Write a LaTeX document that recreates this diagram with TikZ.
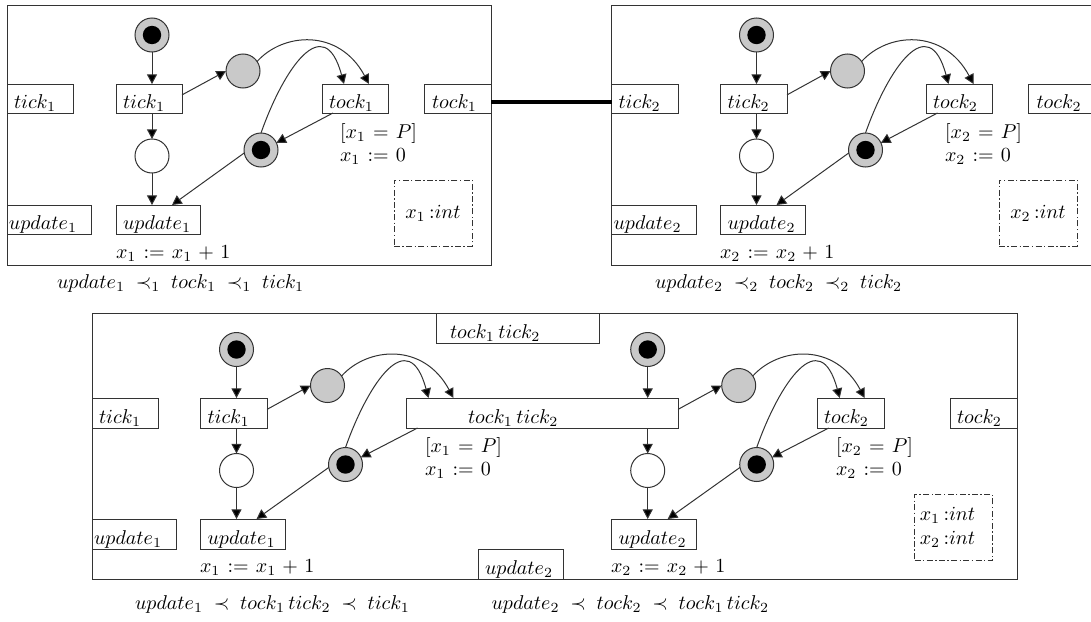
\documentclass[tikz,border=0pt]{standalone}
\usetikzlibrary{arrows.meta,calc}
\definecolor{netgray}{gray}{0.79}
\definecolor{netline}{gray}{0.2}
\newcommand{\sprel}{\hspace{0.8pt}}
\newcommand{\sord}{\hspace{2.6pt}}
\newcommand{\splus}{\hspace{0.9pt}}
\tikzset{
  tbox/.style={draw=netline,line width=0.45pt,inner sep=0pt,outer sep=0pt,align=left,text height=10pt,text depth=0pt,anchor=center},
  place/.style={circle,draw=netline,line width=0.5pt,minimum size=17pt,inner sep=0pt,outer sep=0pt},
  gplace/.style={place,fill=netgray},
  wplace/.style={place,fill=white},
  tokenmark/.style={circle,fill=black,minimum size=9.2pt,inner sep=0pt,outer sep=0pt},
  arr/.style={draw=netline,line width=0.5pt,-{Triangle[length=4.8pt,width=5pt,fill=black]}},
  lab/.style={anchor=base west,inner sep=0pt,outer sep=0pt},
  dbox/.style={draw=netline,line width=0.45pt,dash pattern=on 3pt off 1.2pt on 0.7pt off 1.2pt,inner sep=0pt,outer sep=0pt,minimum width=39pt,minimum height=33pt,align=left},
  link/.style={line width=2pt,draw=black}
}
% name, x1, y1, x2, y2, left pad, text
\newcommand{\tbx}[7]{%
  \pgfmathsetmacro{\bxw}{(#4-#2)*0.5}%
  \pgfmathsetmacro{\bxh}{(#5-#3)*0.5}%
  \pgfmathsetmacro{\bxp}{#6*0.5}%
  \node[tbox,minimum width=\bxw pt,minimum height=\bxh pt,text width=\bxw pt] (#1) at ({(#2+#4)/2},{(#3+#5)/2}) {\hspace*{\bxp pt}#7};}
% prefix, dx, dy, tick node, tock node, update node
\newcommand{\halfnet}[6]{%
  \begin{scope}[shift={(#2,#3)}]
    \node[gplace] (#1p) at (152,35) {};
    \node[tokenmark] (#1pm) at (152,35) {};
    \node[gplace] (#1g) at (243,71) {};
    \node[wplace] (#1w) at (152,156) {};
    \node[gplace] (#1k) at (261,150) {};
    \node[tokenmark] (#1km) at (261,150) {};
    \coordinate (#1xa) at (369,0);
    \coordinate (#1xb) at (344,0);
    \coordinate (#1xc) at (333,0);
    \coordinate (#1xd) at (172,0);
    \draw[arr] (#1p) -- (#1p |- #4.north);
    \draw[arr] (#1p |- #4.south) -- (#1w);
    \draw[arr] (#1w) -- (#1w |- #6.north);
    \draw[arr] ([yshift=1.8pt]#4.east) -- (#1g.west);
    \draw[arr] (#1g.34) .. controls +(26,-29) and ($(#1xa |- #5.north)+(-30,-56)$) .. (#1xa |- #5.north);
    \draw[arr] (#1k.north) .. controls +(23,-65) and ($(#1xb |- #5.north)+(-20,-74)$) .. (#1xb |- #5.north);
    \draw[arr] (#1xc |- #5.south) -- (#1k.25);
    \draw[arr] (#1k.190) -- (#1xd |- #6.north);
  \end{scope}}
\begin{document}
\begin{tikzpicture}[x=0.5pt,y=-0.5pt]
\useasboundingbox (0,0) rectangle (1091,621);
% ---- top left
\tbx{oa}{7}{5}{491}{265}{0}{}
\tbx{aTl}{7}{84}{73}{113}{7}{$tick_1$}
\tbx{aT}{116}{84}{182}{113}{7}{$tick_1$}
\tbx{aK}{322}{84}{388}{113}{7}{$tock_1$}
\tbx{aKr}{424}{84}{491}{113}{8}{$tock_1$}
\tbx{aUl}{7}{205}{91}{234}{2}{$update_1$}
\tbx{aU}{116}{205}{200}{234}{7}{$update_1$}
\halfnet{a}{0}{0}{aT}{aK}{aU}
\node[lab] (al1) at (340,138) {$[x_1\sprel=\sprel P]$};
\node[lab] (al2) at (340,161) {$x_1\sprel:=\sprel 0$};
\node[lab] (al3) at (116,258) {$x_1\sprel:=\sprel x_1\splus+\splus 1$};
\node[dbox] (ad) at (433,213) {$x_1\,{:}int$};
\node[lab] (ao) at (57,288) {$update_1\sord\prec_1\sord tock_1\sord\prec_1\sord tick_1$};
% ---- top right
\tbx{ob}{611}{5}{1091}{265}{0}{}
\tbx{bTl}{611.5}{84}{678}{113}{7}{$tick_2$}
\tbx{bT}{720.5}{84}{787}{113}{7}{$tick_2$}
\tbx{bK}{926}{84}{992.5}{113}{7}{$tock_2$}
\tbx{bKr}{1028.5}{84}{1091}{113}{8}{$tock_2$}
\tbx{bUl}{611.5}{205}{696}{234}{2}{$update_2$}
\tbx{bU}{720.5}{205}{805}{234}{7}{$update_2$}
\halfnet{b}{604.5}{0}{bT}{bK}{bU}
\node[lab] (bl1) at (945,138) {$[x_2\sprel=\sprel P]$};
\node[lab] (bl2) at (945,161) {$x_2\sprel:=\sprel 0$};
\node[lab] (bl3) at (720,258) {$x_2\sprel:=\sprel x_2\splus+\splus 1$};
\node[dbox] (bd) at (1038,213) {$x_2\,{:}int$};
\node[lab] (bo) at (655,288) {$update_2\sord\prec_2\sord tock_2\sord\prec_2\sord tick_2$};
\draw[link] ([yshift=-1.5pt]aKr.east) -- ([yshift=-1.5pt]bTl.west);
% ---- bottom
\tbx{oc}{92}{313.5}{1017}{579.5}{0}{}
\tbx{cTop}{436}{313.5}{599.5}{343.5}{14}{$tock_1\,tick_2$}
\tbx{cTl}{92}{398}{158}{428}{7}{$tick_1$}
\tbx{cT}{200.5}{398}{267}{428}{7}{$tick_1$}
\tbx{cM}{406}{398}{678}{428}{62}{$tock_1\,tick_2$}
\tbx{cK}{817}{398}{884}{428}{7}{$tock_2$}
\tbx{cKr}{950}{398}{1017}{428}{7}{$tock_2$}
\tbx{cUl}{92}{519}{176}{549}{2}{$update_1$}
\tbx{cU}{200.5}{519}{285}{549}{7}{$update_1$}
\tbx{cV}{611.5}{519}{696.5}{549}{7}{$update_2$}
\tbx{cVb}{478}{549}{563}{579.5}{7}{$update_2$}
\halfnet{c}{84.5}{314.5}{cT}{cM}{cU}
\halfnet{d}{495.7}{314.5}{cM}{cK}{cV}
\node[lab] (cl1) at (425,452) {$[x_1\sprel=\sprel P]$};
\node[lab] (cl2) at (425,475) {$x_1\sprel:=\sprel 0$};
\node[lab] (cl3) at (200,572) {$x_1\sprel:=\sprel x_1\splus+\splus 1$};
\node[lab] (dl1) at (836,452) {$[x_2\sprel=\sprel P]$};
\node[lab] (dl2) at (836,475) {$x_2\sprel:=\sprel 0$};
\node[lab] (dl3) at (611,572) {$x_2\sprel:=\sprel x_2\splus+\splus 1$};
\node[dbox] (cd) at (953.5,527.5) {$x_1\,{:}int$\hspace*{6pt}\\$x_2\,{:}int$\hspace*{6pt}};
\node[lab] (co) at (135,609) {$update_1\sord\prec\sord tock_1\,tick_2\sord\prec\sord tick_1$};
\node[lab] (do) at (491.5,609) {$update_2\sord\prec\sord tock_2\sord\prec\sord tock_1\,tick_2$};
\end{tikzpicture}
\end{document}
